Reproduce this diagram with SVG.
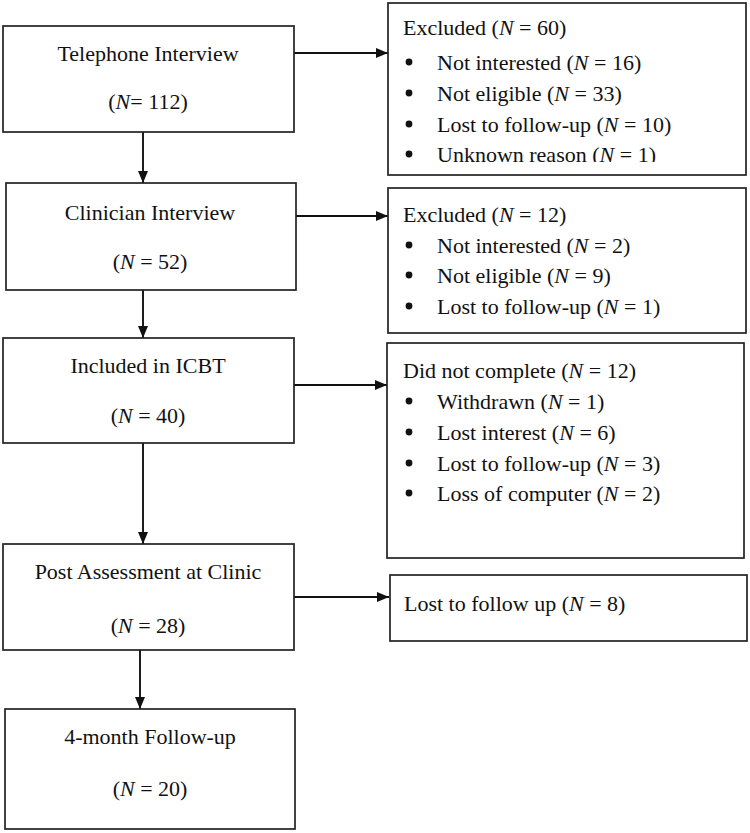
<svg xmlns="http://www.w3.org/2000/svg" width="750" height="833" viewBox="0 0 750 833">
<style>
  .box { fill: #fff; stroke: #222; stroke-width: 1.7; }
  .t { font-family: "Liberation Serif", "Times New Roman", serif; font-size: 22px; fill: #111; }
  .c { text-anchor: middle; }
  .i { font-style: italic; }
  .conn { stroke: #111; stroke-width: 1.9; fill: none; }
  .dot { fill: #111; }
</style>
<defs>
  <marker id="ah" markerUnits="userSpaceOnUse" markerWidth="12" markerHeight="10" refX="12" refY="5" orient="auto">
    <path d="M0,0 L12,5 L0,10 Z" fill="#111"/>
  </marker>
  <clipPath id="clipA"><rect x="388" y="3" width="358" height="159"/></clipPath>
</defs>
<rect width="750" height="833" fill="#fff"/>

<g id="connectors">
  <line class="conn" x1="143" y1="132" x2="143" y2="183" marker-end="url(#ah)"/>
  <line class="conn" x1="143" y1="290" x2="143" y2="338" marker-end="url(#ah)"/>
  <line class="conn" x1="143" y1="443" x2="143" y2="544" marker-end="url(#ah)"/>
  <line class="conn" x1="140" y1="645" x2="140" y2="709" marker-end="url(#ah)"/>
  <line class="conn" x1="293" y1="53" x2="388" y2="53" marker-end="url(#ah)"/>
  <line class="conn" x1="293" y1="216" x2="388" y2="216" marker-end="url(#ah)"/>
  <line class="conn" x1="294" y1="385" x2="387" y2="385" marker-end="url(#ah)"/>
  <line class="conn" x1="291" y1="597" x2="389" y2="597" marker-end="url(#ah)"/>
</g>

<g id="telephone">
  <rect class="box" x="3" y="26" width="291" height="106"/>
  <text class="t c" x="148" y="61">Telephone Interview</text>
  <text class="t c" x="148" y="109">(<tspan class="i">N</tspan>= 112)</text>
</g>

<g id="clinician">
  <rect class="box" x="6" y="183" width="290" height="107"/>
  <text class="t c" x="150" y="220">Clinician Interview</text>
  <text class="t c" x="150" y="269">(<tspan class="i">N</tspan> = 52)</text>
</g>

<g id="included">
  <rect class="box" x="3" y="338" width="291" height="105"/>
  <text class="t c" x="148" y="373">Included in ICBT</text>
  <text class="t c" x="148" y="423">(<tspan class="i">N</tspan> = 40)</text>
</g>

<g id="post">
  <rect class="box" x="3" y="544" width="291" height="106"/>
  <text class="t c" x="148" y="579">Post Assessment at Clinic</text>
  <text class="t c" x="148" y="633">(<tspan class="i">N</tspan> = 28)</text>
</g>

<g id="followup">
  <rect class="box" x="5" y="709" width="290" height="120"/>
  <text class="t c" x="150" y="744">4-month Follow-up</text>
  <text class="t c" x="150" y="796">(<tspan class="i">N</tspan> = 20)</text>
</g>

<g id="excluded1">
  <rect class="box" x="388" y="3" width="358" height="172"/>
  <g clip-path="url(#clipA)">
    <text class="t" x="403" y="35">Excluded (<tspan class="i">N</tspan> = 60)</text>
    <circle class="dot" cx="409" cy="62" r="3.4"/>
    <text class="t" x="437" y="70">Not interested (<tspan class="i">N</tspan> = 16)</text>
    <circle class="dot" cx="409" cy="93" r="3.4"/>
    <text class="t" x="437" y="101">Not eligible (<tspan class="i">N</tspan> = 33)</text>
    <circle class="dot" cx="409" cy="124" r="3.4"/>
    <text class="t" x="437" y="132">Lost to follow-up (<tspan class="i">N</tspan> = 10)</text>
    <circle class="dot" cx="409" cy="154" r="3.4"/>
    <text class="t" x="437" y="162">Unknown reason (<tspan class="i">N</tspan> = 1)</text>
  </g>
</g>

<g id="excluded2">
  <rect class="box" x="388" y="188" width="358" height="145"/>
  <text class="t" x="403" y="222">Excluded (<tspan class="i">N</tspan> = 12)</text>
  <circle class="dot" cx="409" cy="245" r="3.4"/>
  <text class="t" x="437" y="253">Not interested (<tspan class="i">N</tspan> = 2)</text>
  <circle class="dot" cx="409" cy="275" r="3.4"/>
  <text class="t" x="437" y="283">Not eligible (<tspan class="i">N</tspan> = 9)</text>
  <circle class="dot" cx="409" cy="306" r="3.4"/>
  <text class="t" x="437" y="314">Lost to follow-up (<tspan class="i">N</tspan> = 1)</text>
</g>

<g id="notcomplete">
  <rect class="box" x="387" y="343" width="357" height="215"/>
  <text class="t" x="403" y="378">Did not complete (<tspan class="i">N</tspan> = 12)</text>
  <circle class="dot" cx="409" cy="401" r="3.4"/>
  <text class="t" x="437" y="409">Withdrawn (<tspan class="i">N</tspan> = 1)</text>
  <circle class="dot" cx="409" cy="432" r="3.4"/>
  <text class="t" x="437" y="440">Lost interest (<tspan class="i">N</tspan> = 6)</text>
  <circle class="dot" cx="409" cy="463" r="3.4"/>
  <text class="t" x="437" y="471">Lost to follow-up (<tspan class="i">N</tspan> = 3)</text>
  <circle class="dot" cx="409" cy="493" r="3.4"/>
  <text class="t" x="437" y="501">Loss of computer (<tspan class="i">N</tspan> = 2)</text>
</g>

<g id="lost">
  <rect class="box" x="390" y="575" width="357" height="66"/>
  <text class="t" x="404" y="611">Lost to follow up (<tspan class="i">N</tspan> = 8)</text>
</g>
</svg>
